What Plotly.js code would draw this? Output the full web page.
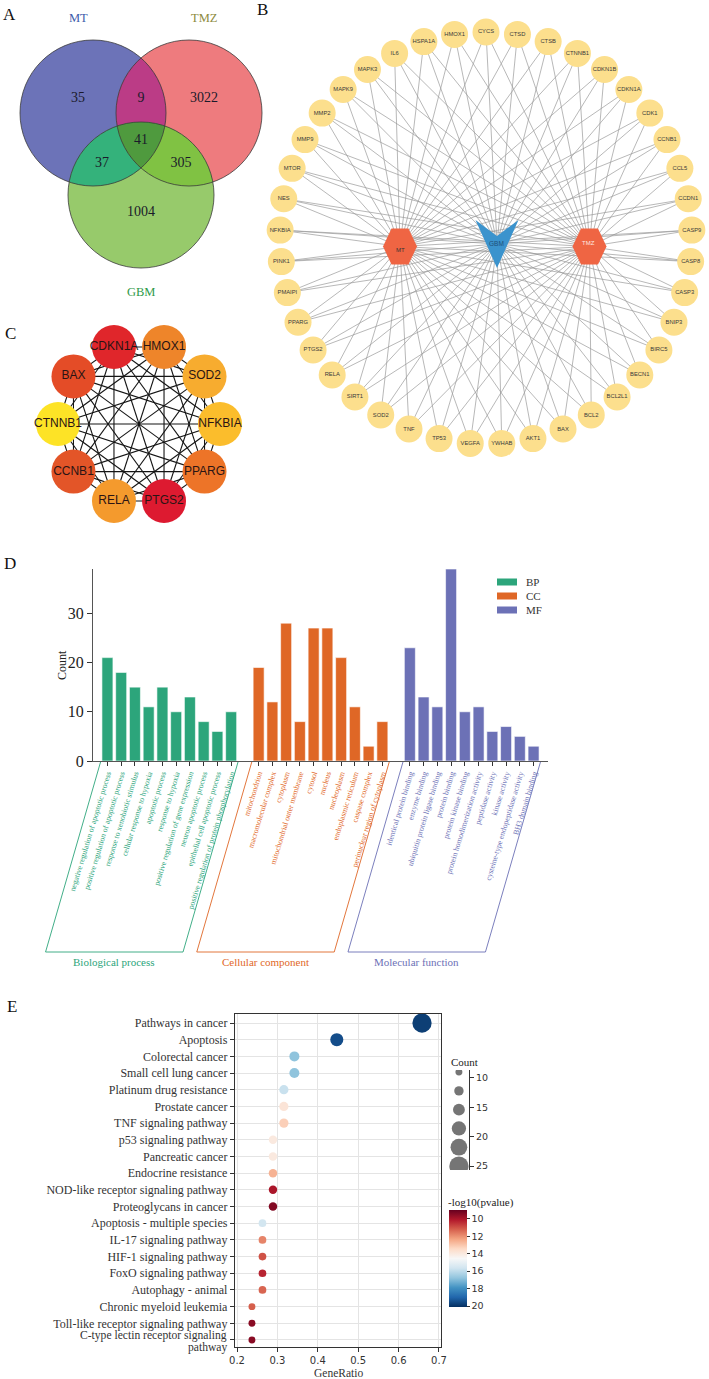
<!DOCTYPE html>
<html><head><meta charset="utf-8">
<script src="https://cdn.plot.ly/plotly-3.0.1.min.js"></script>
<style>html,body{margin:0;padding:0;background:#fff}#chart{width:709px;height:1379px}</style>
</head><body><div id="chart"></div>
<script>
// ================= DATA =================
// Panel A : Venn
const vennSets = ['MT', 'TMZ', 'GBM'];
const vennRegions = ['MT', 'MT&TMZ', 'TMZ', 'MT&GBM', 'MT&TMZ&GBM', 'TMZ&GBM', 'GBM'];
const vennCounts = [35, 9, 3022, 37, 41, 305, 1004];

// Panel B : drug-target-disease network
const drugNodes = ['MT', 'GBM', 'TMZ'];
const targetGenes = ['CYCS','CTSD','CTSB','CTNNB1','CDKN1B','CDKN1A','CDK1','CCNB1','CCL5','CCDN1',
  'CASP9','CASP8','CASP3','BNIP3','BIRC5','BECN1','BCL2L1','BCL2','BAX','AKT1','YWHAB','VEGFA',
  'TP53','TNF','SOD2','SIRT1','RELA','PTGS2','PPARG','PMAIPI','PINK1','NFKBIA','NES','MTOR','MMP9',
  'MMP2','MAPK9','MAPK3','IL6','HSPA1A','HMOX1'];

// Panel C : hub genes
const hubGenes = ['CDKN1A','HMOX1','SOD2','NFKBIA','PPARG','PTGS2','RELA','CCNB1','CTNNB1','BAX'];
const hubColors = ['#e0262b','#ee852a','#f7ac2f','#fbbd2c','#ed7428','#dd1a30','#f49a2d','#e35528','#fde326','#e44c27'];

// Panel D : GO enrichment
const goCategories = ['BP', 'CC', 'MF'];
const goGroupNames = ['Biological process', 'Cellular component', 'Molecular function'];
const bpTerms = ['negative regulation of apoptotic process','positive regulation of apoptotic process',
  'response to xenobiotic stimulus','cellular response to hypoxia','apoptotic process','response to hypoxia',
  'positive regulation of gene expression','neuron apoptotic process','epithelial cell apoptotic process',
  'positive regulation of protein phosphorylation'];
const bpCounts = [21, 18, 15, 11, 15, 10, 13, 8, 6, 10];
const ccTerms = ['mitochondrion','macromolecular complex','cytoplasm','mitochondrial outer membrane','cytosol',
  'nucleus','nucleoplasm','endoplasmic reticulum','caspase complex','perinuclear region of cytoplasm'];
const ccCounts = [19, 12, 28, 8, 27, 27, 21, 11, 3, 8];
const mfTerms = ['identical protein binding','enzyme binding','ubiquitin protein ligase binding','protein binding',
  'protein kinase binding','protein homodimerization activity','peptidase activity','kinase activity',
  'cysteine-type endopeptidase activity','BH3 domain binding'];
const mfCounts = [23, 13, 11, 39, 10, 11, 6, 7, 5, 3];

// Panel E : KEGG enrichment
const keggTerms = ['Pathways in cancer','Apoptosis','Colorectal cancer','Small cell lung cancer',
  'Platinum drug resistance','Prostate cancer','TNF signaling pathway','p53 signaling pathway',
  'Pancreatic cancer','Endocrine resistance','NOD-like receptor signaling pathway','Proteoglycans in cancer',
  'Apoptosis - multiple species','IL-17 signaling pathway','HIF-1 signaling pathway','FoxO signaling pathway',
  'Autophagy - animal','Chronic myeloid leukemia','Toll-like receptor signaling pathway',
  'C-type lectin receptor signaling pathway'];
const keggGeneRatio = [0.658,0.447,0.342,0.342,0.316,0.316,0.316,0.289,0.289,0.289,0.289,0.289,
  0.263,0.263,0.263,0.263,0.263,0.237,0.237,0.237];
const keggCount = [25,17,13,13,12,12,12,11,11,11,11,11,10,10,10,10,10,9,9,9];
const keggNegLog10P = [19.8,19.5,16.8,16.8,15.8,13.8,13.2,14.0,14.0,12.6,10.0,9.4,15.6,11.8,11.0,10.3,11.3,11.2,9.5,9.5];
const countLegendValues = [9, 12.2, 15.4, 18.6, 21.8, 25];
const countLegendTicks = [10, 15, 20, 25];
const pvalTicks = [10, 12, 14, 16, 18, 20];

// ================= LAYOUT / STYLE =================
const W = 709, H = 1379;
const SERIF = 'Liberation Serif, Times New Roman, serif';
const SANS = 'Liberation Sans, Arial, sans-serif';
const DJV = 'DejaVu Sans, sans-serif';

const traces = [];
const shapes = [];
const annotations = [];
function ann(x, y, text, opt) {
  annotations.push(Object.assign({x: x, y: y, xref: 'x', yref: 'y', text: text, showarrow: false,
    font: {family: SERIF, size: 12, color: '#222'}}, opt || {}));
}

// ---------- Panel A ----------
const vennGeom = {MT: {cx: 93, cy: 113, r: 73}, TMZ: {cx: 189, cy: 113, r: 73}, GBM: {cx: 141, cy: 195, r: 73}};
const vennFill = {MT: '#6c73b8', TMZ: '#ee7b7e', GBM: '#97ca6b', 'MT&TMZ': '#bb3c86', 'MT&GBM': '#34b27b',
  'TMZ&GBM': '#80c243', 'MT&TMZ&GBM': '#4f9a3e'};
const vennLabelPos = {MT: [78, 98], 'MT&TMZ': [141, 98], TMZ: [204, 98], 'MT&GBM': [102, 163],
  'MT&TMZ&GBM': [141, 140], 'TMZ&GBM': [181, 163], GBM: [141, 212]};
const vennSetLabelPos = {MT: [78, 18], TMZ: [204, 18], GBM: [141, 292]};
const vennSetColor = {MT: '#3d5cab', TMZ: '#8d8b3e', GBM: '#2f9a4a'};

function regionPath(names) {
  const cs = names.map(n => vennGeom[n]);
  const pts = [];
  cs.forEach((c, i) => {
    for (let k = 0; k < 720; k++) {
      const a = k / 720 * 2 * Math.PI;
      const p = [c.cx + c.r * Math.cos(a), c.cy + c.r * Math.sin(a)];
      if (cs.every((o, j) => j === i || Math.hypot(p[0] - o.cx, p[1] - o.cy) <= o.r + 1e-6)) pts.push(p);
    }
  });
  const mx = pts.reduce((s, p) => s + p[0], 0) / pts.length;
  const my = pts.reduce((s, p) => s + p[1], 0) / pts.length;
  pts.sort((a, b) => Math.atan2(a[1] - my, a[0] - mx) - Math.atan2(b[1] - my, b[0] - mx));
  return 'M' + pts.map(p => p[0].toFixed(2) + ',' + p[1].toFixed(2)).join('L') + 'Z';
}
vennSets.forEach(s => {
  const g = vennGeom[s];
  shapes.push({type: 'circle', xref: 'x', yref: 'y', x0: g.cx - g.r, x1: g.cx + g.r, y0: g.cy - g.r, y1: g.cy + g.r,
    fillcolor: vennFill[s], line: {width: 0}, layer: 'below'});
});
vennRegions.filter(r => r.split('&').length === 2).concat(['MT&TMZ&GBM']).forEach(r => {
  shapes.push({type: 'path', xref: 'x', yref: 'y', path: regionPath(r.split('&')), fillcolor: vennFill[r],
    line: {width: 0}, layer: 'below'});
});
vennSets.forEach(s => {
  const g = vennGeom[s];
  shapes.push({type: 'circle', xref: 'x', yref: 'y', x0: g.cx - g.r, x1: g.cx + g.r, y0: g.cy - g.r, y1: g.cy + g.r,
    fillcolor: 'rgba(0,0,0,0)', line: {width: 0.8, color: '#3a3a3a'}, layer: 'below'});
  ann(vennSetLabelPos[s][0], vennSetLabelPos[s][1], s, {font: {family: SERIF, size: 12.5, color: vennSetColor[s]}});
});
traces.push({type: 'scatter', mode: 'text', xaxis: 'x', yaxis: 'y',
  x: vennRegions.map(r => vennLabelPos[r][0]), y: vennRegions.map(r => vennLabelPos[r][1]),
  text: vennCounts.map(String), textfont: {family: SERIF, size: 14, color: '#1a1a2a'}, hoverinfo: 'skip'});

// ---------- Panel B ----------
const netB = {cx: 486, cy: 238, R: 206};
const drugPos = {MT: [400, 246.5], GBM: [497, 244], TMZ: [589.5, 246.5]};
const genePos = targetGenes.map((g, i) => {
  const t = i / targetGenes.length * 2 * Math.PI;
  return [netB.cx + netB.R * Math.sin(t), netB.cy - netB.R * Math.cos(t)];
});
const ex = [], ey = [];
genePos.forEach(p => drugNodes.forEach(d => { ex.push(p[0], drugPos[d][0], null); ey.push(p[1], drugPos[d][1], null); }));
traces.push({type: 'scatter', mode: 'lines', x: ex, y: ey, xaxis: 'x', yaxis: 'y',
  line: {color: '#9a9a9a', width: 0.7}, hoverinfo: 'skip'});
traces.push({type: 'scatter', mode: 'markers+text', x: genePos.map(p => p[0]), y: genePos.map(p => p[1]),
  xaxis: 'x', yaxis: 'y', text: targetGenes, textposition: 'middle center',
  textfont: {family: SANS, size: 5.8, color: '#3a3a3a'},
  marker: {size: 27, color: '#fcdf8d', line: {width: 0}}, hoverinfo: 'skip'});
function hexPath(c, w, h) {
  const [x, y] = c;
  return `M${x - w / 2},${y}L${x - w / 4},${y - h / 2}L${x + w / 4},${y - h / 2}L${x + w / 2},${y}L${x + w / 4},${y + h / 2}L${x - w / 4},${y + h / 2}Z`;
}
function vPath(c, w, h) {
  const [x, y] = c;
  return `M${x - w / 2},${y - h / 2}L${x},${y - h / 6}L${x + w / 2},${y - h / 2}L${x},${y + h / 2}Z`;
}
shapes.push({type: 'path', xref: 'x', yref: 'y', path: hexPath(drugPos.MT, 34, 36), fillcolor: '#ef6543', line: {width: 0}, layer: 'above'});
shapes.push({type: 'path', xref: 'x', yref: 'y', path: hexPath(drugPos.TMZ, 34, 36), fillcolor: '#ef6543', line: {width: 0}, layer: 'above'});
shapes.push({type: 'path', xref: 'x', yref: 'y', path: vPath(drugPos.GBM, 43, 48), fillcolor: '#3b93cd', line: {width: 0}, layer: 'above'});
ann(drugPos.MT[0], drugPos.MT[1] + 3, 'MT', {font: {family: SANS, size: 6, color: '#333'}});
ann(drugPos.GBM[0] - 1, drugPos.GBM[1] - 1, 'GBM', {font: {family: SANS, size: 6.5, color: '#1f4f7a'}});
ann(drugPos.TMZ[0] - 1, drugPos.TMZ[1] - 4, 'TMZ', {font: {family: SANS, size: 6, color: '#fde8e0'}});

// ---------- Panel C ----------
const netC = {cx: 139, cy: 424, R: 81};
const hubPos = hubGenes.map((g, i) => {
  const t = (-18 + i * 36) * Math.PI / 180;
  return [netC.cx + netC.R * Math.sin(t), netC.cy - netC.R * Math.cos(t)];
});
const cx = [], cy = [];
for (let i = 0; i < hubGenes.length; i++) for (let j = i + 1; j < hubGenes.length; j++) {
  cx.push(hubPos[i][0], hubPos[j][0], null); cy.push(hubPos[i][1], hubPos[j][1], null);
}
traces.push({type: 'scatter', mode: 'lines', x: cx, y: cy, xaxis: 'x', yaxis: 'y',
  line: {color: '#151515', width: 1.1}, hoverinfo: 'skip'});
traces.push({type: 'scatter', mode: 'markers+text', x: hubPos.map(p => p[0]), y: hubPos.map(p => p[1]),
  xaxis: 'x', yaxis: 'y', text: hubGenes, textposition: 'middle center',
  textfont: {family: SANS, size: 12, color: '#2a1414'},
  marker: {size: 44, color: hubColors, line: {width: 0}}, hoverinfo: 'skip'});

// ---------- Panel D ----------
const goColors = ['#2ca57b', '#df6726', '#6c71b6'];
const goTerms = [bpTerms, ccTerms, mfTerms];
const goCounts = [bpCounts, ccCounts, mfCounts];
const dAx = {x0: 93, x1: 548, y0: 569, y1: 761, r0: -1.05, r1: 32.05};
const barPx = v => dAx.x0 + (v - dAx.r0) * (dAx.x1 - dAx.x0) / (dAx.r1 - dAx.r0);
const tickVals = [], tickText = [];
goCategories.forEach((cat, g) => {
  const xs = goTerms[g].map((t, i) => g * 11 + i);
  xs.forEach((x, i) => { tickVals.push(x); tickText.push(`<span style="color:${goColors[g]}">${goTerms[g][i]}</span>`); });
  traces.push({type: 'bar', name: cat, x: xs, y: goCounts[g], xaxis: 'x2', yaxis: 'y2', width: 0.8,
    marker: {color: goColors[g], line: {color: '#ffffff', width: 0.6}}, hoverinfo: 'skip'});
  // parallelogram bracket
  const tl = barPx(xs[0] - 0.5), tr = barPx(xs[xs.length - 1] + 0.5), off = 55, yt = 762, yb = 952;
  shapes.push({type: 'path', xref: 'x', yref: 'y', path: `M${tl},${yt}L${tl - off},${yb}L${tr - off},${yb}L${tr},${yt}`,
    line: {color: goColors[g], width: 0.9}, fillcolor: 'rgba(0,0,0,0)'});
  ann((tl + tr) / 2 - off, 962, goGroupNames[g], {font: {family: SERIF, size: 11, color: goColors[g]}});
  // legend
  const ly = 582 + g * 14;
  shapes.push({type: 'rect', xref: 'x', yref: 'y', x0: 497, x1: 517, y0: ly - 3.5, y1: ly + 3.5, fillcolor: goColors[g], line: {width: 0}});
  ann(524, ly, cat, {xanchor: 'left', font: {family: SERIF, size: 11, color: '#333'}});
});
ann(62, 665, 'Count', {textangle: -90, font: {family: SERIF, size: 12, color: '#222'}});

// ---------- Panel E ----------
const eAx = {x0: 235, x1: 441, y0: 1014, y1: 1347};
const rdbu = [[0, '#053061'], [0.1, '#2166ac'], [0.2, '#4393c3'], [0.3, '#92c5de'], [0.4, '#d1e5f0'],
  [0.5, '#f7f7f7'], [0.6, '#fddbc7'], [0.7, '#f4a582'], [0.8, '#d6604d'], [0.9, '#b2182b'], [1, '#67001f']];
const sizeRef = 1.3;
traces.push({type: 'scatter', mode: 'markers', x: keggGeneRatio, y: keggTerms, xaxis: 'x3', yaxis: 'y3',
  marker: {size: keggCount.map(c => c / sizeRef), color: keggNegLog10P.map(v => -v), cmin: -20.1, cmax: -9,
    colorscale: rdbu, line: {width: 0}, opacity: 1,
    colorbar: {x: 449 / W, xanchor: 'left', y: 1 - 1210 / H, yanchor: 'top', len: 97, lenmode: 'pixels',
      thickness: 18, thicknessmode: 'pixels', xpad: 0, ypad: 0, outlinewidth: 0, ticks: 'outside', ticklen: 3,
      tickcolor: '#333', tickvals: pvalTicks.map(v => -v), ticktext: pvalTicks.map(String),
      tickfont: {family: DJV, size: 9.5, color: '#333'}}},
  hoverinfo: 'skip'});
traces.push({type: 'scatter', mode: 'markers', x: countLegendValues.map(() => 0.58), y: countLegendValues,
  xaxis: 'x4', yaxis: 'y4', marker: {size: countLegendValues.map(c => c / sizeRef), color: '#3a3a3a', line: {width: 0}},
  hoverinfo: 'skip'});
ann(449, 1062, 'Count', {xanchor: 'left', font: {family: SERIF, size: 11, color: '#222'}});
ann(446, 1202, '-log10(pvalue)', {xanchor: 'left', font: {family: SERIF, size: 11, color: '#222'}});
ann((eAx.x0 + eAx.x1) / 2, 1373, 'GeneRatio', {font: {family: SERIF, size: 11.5, color: '#333'}});
// long KEGG label wrapped on two tight lines (as in the reference)
const lastTerm = keggTerms[keggTerms.length - 1];
const cut = lastTerm.lastIndexOf(' ');
ann(eAx.x0 - 6, 1335.5, lastTerm.slice(0, cut), {xanchor: 'right', font: {family: SERIF, size: 11.6, color: '#333'}});
ann(eAx.x0 - 6, 1347.5, lastTerm.slice(cut + 1), {xanchor: 'right', font: {family: SERIF, size: 11.6, color: '#333'}});

// panel letters
[['A', 9, 14], ['B', 262, 9], ['C', 10, 333], ['D', 10, 563], ['E', 12, 1006]].forEach(l =>
  ann(l[1], l[2], l[0], {font: {family: SERIF, size: 17, color: '#111'}}));

const layout = {
  width: W, height: H, margin: {l: 0, r: 0, t: 0, b: 0, pad: 0}, showlegend: false,
  paper_bgcolor: '#ffffff', plot_bgcolor: 'rgba(0,0,0,0)',
  xaxis: {domain: [0, 1], range: [0, W], visible: false, fixedrange: true},
  yaxis: {domain: [0, 1], range: [H, 0], visible: false, fixedrange: true},
  xaxis2: {anchor: 'y2', domain: [dAx.x0 / W, dAx.x1 / W], range: [dAx.r0, dAx.r1], tickmode: 'array',
    tickvals: tickVals, ticktext: tickText, tickangle: -73, tickfont: {family: SERIF, size: 7.8},
    ticks: 'outside', ticklen: 4, tickcolor: '#333', showline: true, linecolor: '#555', linewidth: 1,
    showgrid: false, zeroline: false},
  yaxis2: {anchor: 'x2', domain: [1 - dAx.y1 / H, 1 - dAx.y0 / H], range: [0, 39], tickvals: [0, 10, 20, 30],
    ticks: 'outside', ticklen: 5, tickcolor: '#333', tickfont: {family: SERIF, size: 16, color: '#222'},
    showline: true, linecolor: '#555', linewidth: 1, showgrid: false, zeroline: false},
  xaxis3: {anchor: 'y3', domain: [eAx.x0 / W, eAx.x1 / W], range: [0.195, 0.705],
    tickvals: [0.2, 0.3, 0.4, 0.5, 0.6, 0.7], ticktext: ['0.2', '0.3', '0.4', '0.5', '0.6', '0.7'],
    ticks: 'outside', ticklen: 4, tickcolor: '#333', tickfont: {family: DJV, size: 10, color: '#333'},
    showline: true, mirror: true, linecolor: '#333', linewidth: 1.2, showgrid: true, gridcolor: '#e4e4e4',
    gridwidth: 1, zeroline: false},
  yaxis3: {anchor: 'x3', domain: [1 - eAx.y1 / H, 1 - eAx.y0 / H], type: 'category',
    categoryorder: 'array', categoryarray: keggTerms, range: [19.42, -0.54],
    tickmode: 'array', tickvals: keggTerms, ticktext: keggTerms.map((t, i) => i === keggTerms.length - 1 ? '' : t),
    ticks: 'outside', ticklen: 4, tickcolor: '#333', tickfont: {family: SERIF, size: 12, color: '#333'},
    showline: true, mirror: true, linecolor: '#333', linewidth: 1.2, showgrid: true, gridcolor: '#e4e4e4',
    gridwidth: 1, zeroline: false},
  xaxis4: {anchor: 'y4', domain: [445 / W, 469 / W], range: [0, 1], visible: false},
  yaxis4: {anchor: 'x4', side: 'right', domain: [1 - 1170 / H, 1 - 1070 / H], range: [25.68, 8.64],
    tickvals: countLegendTicks, ticks: 'outside', ticklen: 4, tickcolor: '#333', showline: true,
    linecolor: '#333', linewidth: 1, tickfont: {family: DJV, size: 9.5, color: '#333'}, showgrid: false,
    zeroline: false},
  shapes: shapes, annotations: annotations
};
Plotly.newPlot('chart', traces, layout, {displayModeBar: false, staticPlot: true});
</script></body></html>
